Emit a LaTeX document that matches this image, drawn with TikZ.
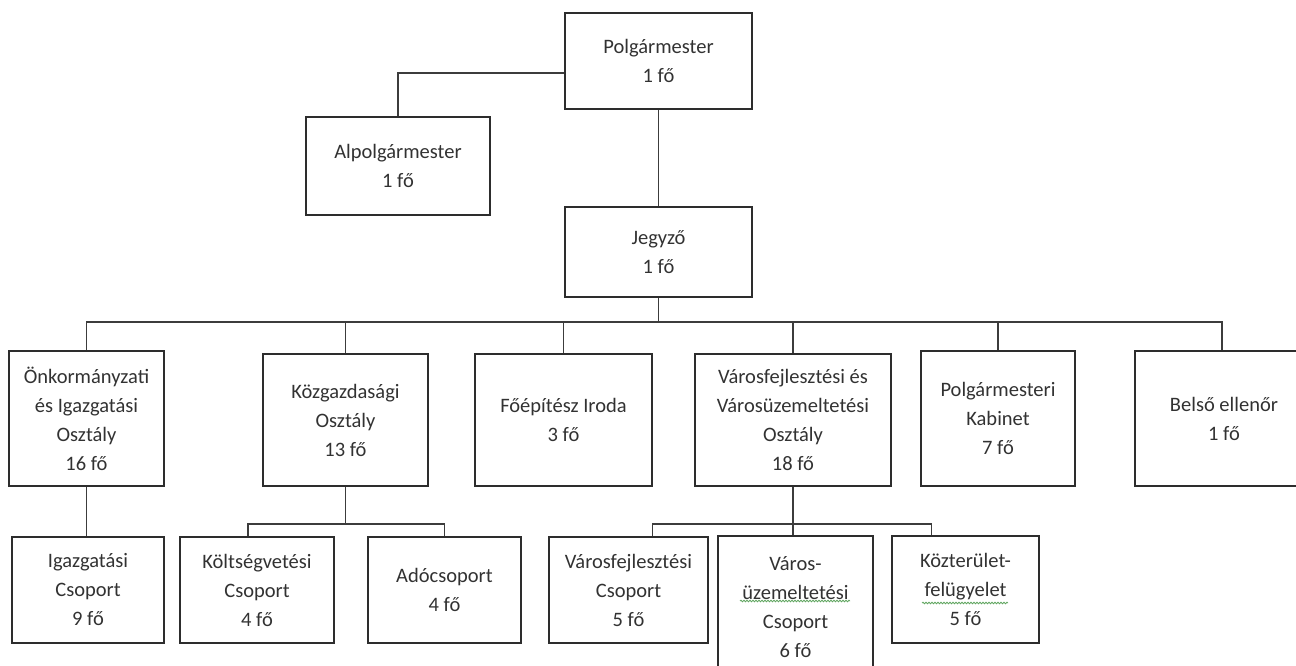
\documentclass[tikz,border=0pt]{standalone}
\usepackage{fontspec}
\setmainfont{Carlito}
\definecolor{boxline}{RGB}{45,45,45}
\definecolor{wireline}{RGB}{60,60,60}
\definecolor{txtgray}{RGB}{50,50,50}
\definecolor{spellgreen}{RGB}{95,165,95}
\usetikzlibrary{positioning,decorations.pathmorphing}

\begin{document}
\begin{tikzpicture}[x=1pt, y=-1pt,
  unit/.style={draw=boxline, line width=1.9pt, align=center, inner sep=0pt,
    text=txtgray, font=\fontsize{20.5}{29}\selectfont},
  wire/.style={draw=wireline, line width=1.9pt},
  squiggle/.style={spellgreen, line width=0.8pt, decorate,
    decoration={snake, amplitude=0.8pt, segment length=3pt}}]
  \useasboundingbox (0,0) rectangle (1296,666);
  \clip (0,0) rectangle (1296,666);

  % leadership
  \node[unit, minimum width=187pt, minimum height=96pt] (polg) at (658.5,61) {Polgármester\\1 fő};
  \node[unit, minimum width=184pt, minimum height=98pt] (alp) at (398,166) {Alpolgármester\\1 fő};
  \node[unit, minimum width=187pt, minimum height=90pt] (jeg) at (658.5,252) {Jegyző\\1 fő};

  % departments
  \node[unit, minimum width=155pt, minimum height=135pt] (onk) at (86.5,418.5) {Önkormányzati\\és Igazgatási\\Osztály\\16 fő};
  \node[unit, minimum width=165pt, minimum height=132pt] (kozg) at (345.5,420) {Közgazdasági\\Osztály\\13 fő};
  \node[unit, minimum width=177pt, minimum height=132pt] (foep) at (563.5,420) {Főépítész Iroda\\3 fő};
  \node[unit, minimum width=196pt, minimum height=132pt] (varos) at (793,420) {Városfejlesztési és\\Városüzemeltetési\\Osztály\\18 fő};
  \node[unit, minimum width=154pt, minimum height=135pt] (kab) at (998,418.5) {Polgármesteri\\Kabinet\\7 fő};
  \node[unit, minimum width=178pt, minimum height=135pt] (bel) at (1224,418.5) {Belső ellenőr\\1 fő};

  % groups
  \node[unit, minimum width=152pt, minimum height=106pt] (igz) at (88,590) {Igazgatási\\Csoport\\9 fő};
  \node[unit, minimum width=154pt, minimum height=106pt] (kolt) at (257,590) {Költségvetési\\Csoport\\4 fő};
  \node[unit, minimum width=153pt, minimum height=106pt] (ado) at (444.5,590) {Adócsoport\\4 fő};
  \node[unit, minimum width=159pt, minimum height=106pt] (vfj) at (628.5,590) {Városfejlesztési\\Csoport\\5 fő};
  \node[unit, minimum width=155pt, minimum height=142pt] (vuz) at (795.5,607) {Város-\\üzemeltetési\\Csoport\\6 fő};
  \node[unit, minimum width=147pt, minimum height=107pt] (kozt) at (965.5,589.5) {Közterület-\\felügyelet\\5 fő};

  % connectors
  \draw[wire] ([yshift=-12pt]polg.west) -| (alp.north);
  \draw[wire] (polg.south) -- (jeg.north);
  \draw[wire] (jeg.south) -- ++(0,24) coordinate (busj);
  \draw[wire] (onk.north) |- (busj) -| ([xshift=-2pt]bel.north);
  \foreach \n in {kozg,foep,varos,kab}
    \draw[wire] (\n.north) -- (\n.north |- busj);

  \draw[wire] (onk.south) -- (igz.north -| onk.south);
  \draw[wire] (kozg.south) -- ++(0,37) coordinate (busk);
  \draw[wire] ([xshift=-9pt]kolt.north) |- (busk) -| (ado.north);
  \draw[wire] (varos.south) -- (varos.south |- vuz.north);
  \draw[wire] ([xshift=24pt]vfj.north) |- (varos.south |- busk) -| ([xshift=-34pt]kozt.north);

  % spell-check marks
  \draw[squiggle] (740,601) -- (850,601);
  \draw[squiggle] (922,603) -- (1008,603);
\end{tikzpicture}
\end{document}
